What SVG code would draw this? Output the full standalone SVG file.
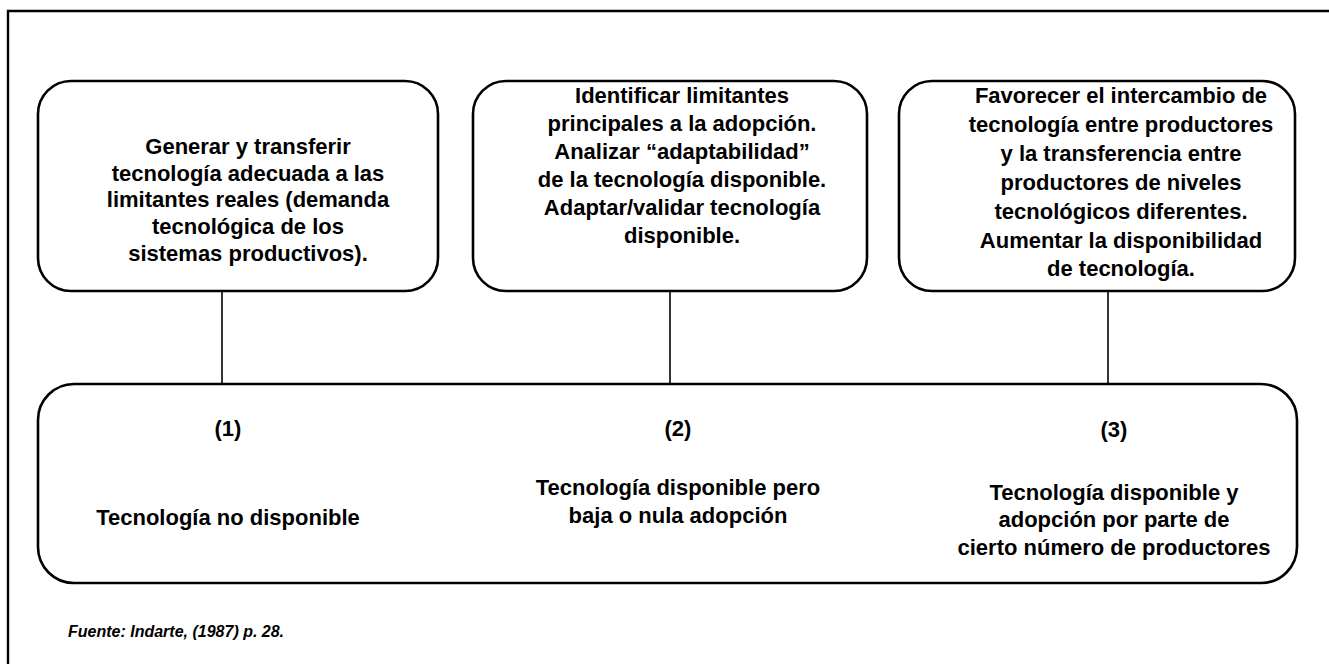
<svg xmlns="http://www.w3.org/2000/svg" width="1329" height="664" viewBox="0 0 1329 664">
<style>
.box{fill:#fff;stroke:#000;stroke-width:2.6}
.frame{fill:none;stroke:#000;stroke-width:2.4}
.con{stroke:#000;stroke-width:1.6;fill:none}
text{font-family:"Liberation Sans",Arial,sans-serif;font-weight:bold;font-size:22px;fill:#000;text-anchor:middle}
.src{font-size:16px;font-style:italic;text-anchor:start}
</style>
<rect width="1329" height="664" fill="#fff"/>
<path class="frame" d="M8,680 V11 H1340"/>
<g id="connectors">
<line class="con" x1="222" y1="291" x2="222" y2="384"/>
<line class="con" x1="670" y1="291" x2="670" y2="384"/>
<line class="con" x1="1108" y1="291" x2="1108" y2="384"/>
</g>
<g id="box1">
<rect class="box" x="38" y="81" width="400" height="210" rx="33" ry="33"/>
<text x="248" y="154">Generar y transferir</text>
<text x="248" y="181">tecnología adecuada a las</text>
<text x="248" y="207">limitantes reales (demanda</text>
<text x="248" y="234">tecnológica de los</text>
<text x="248" y="261">sistemas productivos).</text>
</g>
<g id="box2">
<rect class="box" x="473" y="81" width="394" height="210" rx="33" ry="33"/>
<text x="682" y="103">Identificar limitantes</text>
<text x="682" y="131">principales a la adopción.</text>
<text x="682" y="159">Analizar “adaptabilidad”</text>
<text x="682" y="187">de la tecnología disponible.</text>
<text x="682" y="215">Adaptar/validar tecnología</text>
<text x="682" y="243">disponible.</text>
</g>
<g id="box3">
<rect class="box" x="899" y="81" width="396" height="210" rx="33" ry="33"/>
<text x="1121" y="103">Favorecer el intercambio de</text>
<text x="1121" y="132">tecnología entre productores</text>
<text x="1121" y="161">y la transferencia entre</text>
<text x="1121" y="190">productores de niveles</text>
<text x="1121" y="219">tecnológicos diferentes.</text>
<text x="1121" y="248">Aumentar la disponibilidad</text>
<text x="1121" y="276">de tecnología.</text>
</g>
<g id="situations">
<rect class="box" x="38" y="384" width="1259" height="199" rx="36" ry="36"/>
<text x="228" y="436">(1)</text>
<text x="228" y="525">Tecnología no disponible</text>
<text x="678" y="436">(2)</text>
<text x="678" y="495">Tecnología disponible pero</text>
<text x="678" y="523">baja o nula adopción</text>
<text x="1114" y="437">(3)</text>
<text x="1114" y="500">Tecnología disponible y</text>
<text x="1114" y="527">adopción por parte de</text>
<text x="1114" y="555">cierto número de productores</text>
</g>
<g id="source">
<text class="src" x="68" y="637">Fuente: Indarte, (1987) p. 28.</text>
</g>
</svg>
